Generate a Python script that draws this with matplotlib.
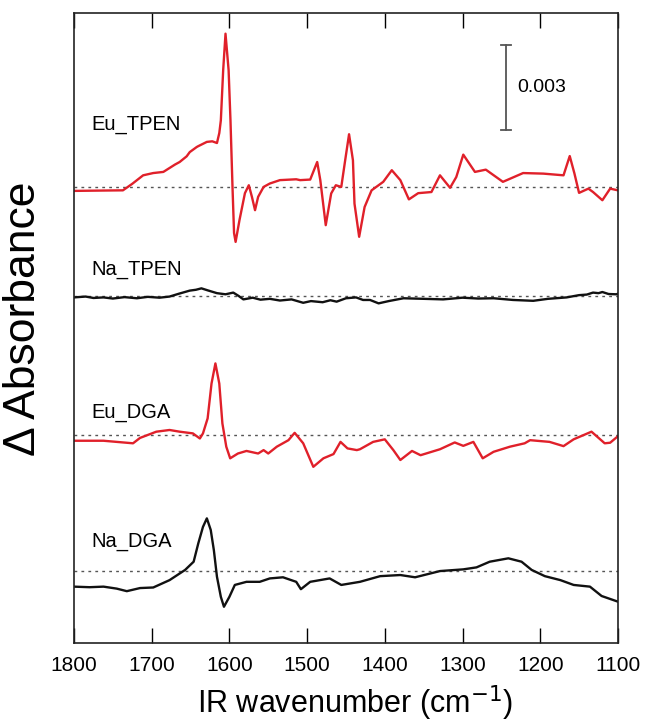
import numpy as np
import matplotlib
matplotlib.use("Agg")
import matplotlib.pyplot as plt

plt.rcParams['font.family'] = ['Liberation Sans', 'DejaVu Sans']

# difference spectra, values in units of 1e-3 absorbance relative to each baseline
eu_tpen_wn = [1800, 1770, 1737, 1725, 1711, 1698, 1685, 1670, 1664, 1655, 1651, 1642, 1640, 1629, 1622,
              1616, 1613, 1611, 1608, 1605, 1601, 1598.6, 1596, 1594, 1592, 1587, 1580, 1575, 1571, 1567,
              1563, 1556, 1548, 1535, 1514, 1509, 1496, 1487, 1483, 1476, 1469, 1463, 1456, 1451, 1446,
              1441, 1439, 1433, 1426, 1417, 1402, 1391, 1380, 1369, 1357, 1340, 1329, 1316, 1308, 1299,
              1284, 1270, 1248, 1222, 1196, 1170, 1162, 1156, 1150, 1138, 1132, 1120, 1110, 1100]
eu_tpen = [-0.13, -0.12, -0.11, 0.12, 0.42, 0.50, 0.54, 0.80, 0.89, 1.09, 1.24, 1.42, 1.45, 1.60, 1.62,
           1.56, 1.91, 2.36, 4.13, 5.42, 4.13, 2.36, 0.01, -1.62, -1.93, -1.16, -0.21, 0.07, -0.34, -0.81,
           -0.34, 0.01, 0.13, 0.25, 0.28, 0.25, 0.27, 0.89, 0.25, -1.34, -0.22, 0.07, 0.01, 0.95, 1.87,
           0.95, -0.58, -1.75, -0.70, -0.11, 0.19, 0.60, 0.25, -0.43, -0.21, -0.17, 0.42, -0.02, 0.36, 1.15,
           0.54, 0.62, 0.19, 0.50, 0.48, 0.42, 1.10, 0.49, -0.20, -0.05, -0.17, -0.46, -0.05, -0.11]

na_tpen_wn = [1800, 1785, 1775, 1762, 1750, 1735, 1719, 1705, 1690, 1677, 1665, 1651, 1643, 1636, 1628,
              1616, 1605, 1595, 1588, 1582, 1570, 1560, 1548, 1535, 1520, 1505, 1495, 1480, 1470, 1462,
              1450, 1437, 1428, 1419, 1408, 1395, 1376, 1350, 1325, 1300, 1280, 1260, 1235, 1209, 1190,
              1166, 1150, 1140, 1132, 1125, 1120, 1112, 1102, 1100]
na_tpen = [-0.05, -0.02, -0.07, -0.05, -0.09, -0.04, -0.08, -0.03, -0.06, -0.02, 0.08, 0.19, 0.22, 0.27, 0.20,
           0.10, 0.06, 0.12, 0.00, -0.12, -0.06, -0.13, -0.10, -0.16, -0.12, -0.24, -0.18, -0.22, -0.15, -0.20,
           -0.08, -0.05, -0.14, -0.14, -0.26, -0.18, -0.08, -0.10, -0.12, -0.06, -0.09, -0.08, -0.14, -0.17, -0.10,
           -0.05, 0.03, 0.05, 0.12, 0.10, 0.14, 0.07, 0.06, 0.08]

eu_dga_wn = [1800, 1762, 1724, 1715, 1694, 1677, 1664, 1647, 1638, 1634, 1628, 1623, 1618, 1613, 1609,
             1604, 1599, 1589, 1578, 1563, 1556, 1550, 1539, 1524, 1516, 1505, 1492, 1479, 1466, 1457,
             1448, 1436, 1432, 1415, 1400, 1389, 1380, 1365, 1354, 1329, 1310, 1299, 1286, 1274, 1260,
             1239, 1220, 1213, 1188, 1170, 1157, 1134, 1117, 1110, 1100]
eu_dga = [-0.20, -0.20, -0.29, -0.10, 0.12, 0.18, 0.12, 0.06, -0.12, 0.06, 0.59, 1.82, 2.53, 1.82, 0.41,
          -0.41, -0.82, -0.65, -0.56, -0.65, -0.53, -0.65, -0.41, -0.18, 0.08, -0.29, -1.12, -0.82, -0.67, -0.24,
          -0.47, -0.53, -0.50, -0.24, -0.15, -0.53, -0.88, -0.56, -0.71, -0.50, -0.26, -0.38, -0.24, -0.82, -0.59,
          -0.41, -0.29, -0.18, -0.24, -0.39, -0.15, 0.12, -0.29, -0.27, -0.04]

na_dga_wn = [1800, 1780, 1762, 1745, 1732, 1715, 1698, 1677, 1657, 1646, 1640, 1634, 1629, 1624, 1620,
             1616, 1611, 1607, 1600, 1593, 1578, 1561, 1548, 1531, 1514, 1508, 1496, 1471, 1456, 1432,
             1406, 1380, 1361, 1329, 1299, 1282, 1265, 1241, 1224, 1211, 1194, 1174, 1157, 1136, 1121, 1100]
na_dga = [-0.55, -0.57, -0.55, -0.62, -0.71, -0.60, -0.58, -0.32, 0.04, 0.33, 0.98, 1.56, 1.86, 1.45, 0.74,
          -0.20, -0.91, -1.26, -0.91, -0.49, -0.38, -0.38, -0.26, -0.22, -0.38, -0.64, -0.38, -0.26, -0.49, -0.38,
          -0.18, -0.14, -0.22, 0.00, 0.06, 0.13, 0.33, 0.45, 0.33, 0.04, -0.18, -0.32, -0.49, -0.55, -0.88, -1.08]

labels = ["Eu_TPEN", "Na_TPEN", "Eu_DGA", "Na_DGA"]
offsets = [16.09, 12.25, 7.34, 2.54]
label_y = [18.29, 13.17, 8.12, 3.58]
colors = ["#e0202a", "#111111", "#e0202a", "#111111"]
series = [(eu_tpen_wn, eu_tpen), (na_tpen_wn, na_tpen), (eu_dga_wn, eu_dga), (na_dga_wn, na_dga)]

fig = plt.figure(figsize=(6.45, 7.22), dpi=100)
ax = fig.add_axes([0.1147, 0.1094, 0.8433, 0.8726])

for (wn, val), off, lab, ly, c in zip(series, offsets, labels, label_y, colors):
    ax.axhline(off, color="#555555", lw=1.0, ls=(0, (2, 3)), zorder=1)
    ax.plot(wn, np.array(val) + off, color=c, lw=1.7, solid_joinstyle="round", zorder=2)
    ax.text(1777, ly, lab, fontsize=14.5, ha="left", va="center")

# scale bar
bar_x = 1244
ax.plot([bar_x, bar_x], [18.11, 21.11], color="#555555", lw=1.3)
ax.plot([bar_x - 7, bar_x + 7], [18.11, 18.11], color="#555555", lw=1.3)
ax.plot([bar_x - 7, bar_x + 7], [21.11, 21.11], color="#555555", lw=1.3)
ax.text(1230, 19.6, "0.003", fontsize=14, ha="left", va="center")

ax.set_xlim(1800, 1100)
ax.set_ylim(0, 22.24)
ax.set_xticks(range(1800, 1099, -100))
ax.set_yticks([])
ax.tick_params(axis="x", direction="in", length=11, width=1.0, top=True, labelsize=15, pad=9)
for s in ax.spines.values():
    s.set_linewidth(1.2)
    s.set_color("#222222")

ax.set_xlabel("IR wavenumber (cm$^{-1}$)", fontsize=22)
ax.xaxis.set_label_coords(0.517, -0.064)
ax.set_ylabel("Δ Absorbance", fontsize=32)
ax.yaxis.set_label_coords(-0.055, 0.514)

plt.savefig("out.png", dpi=100)
